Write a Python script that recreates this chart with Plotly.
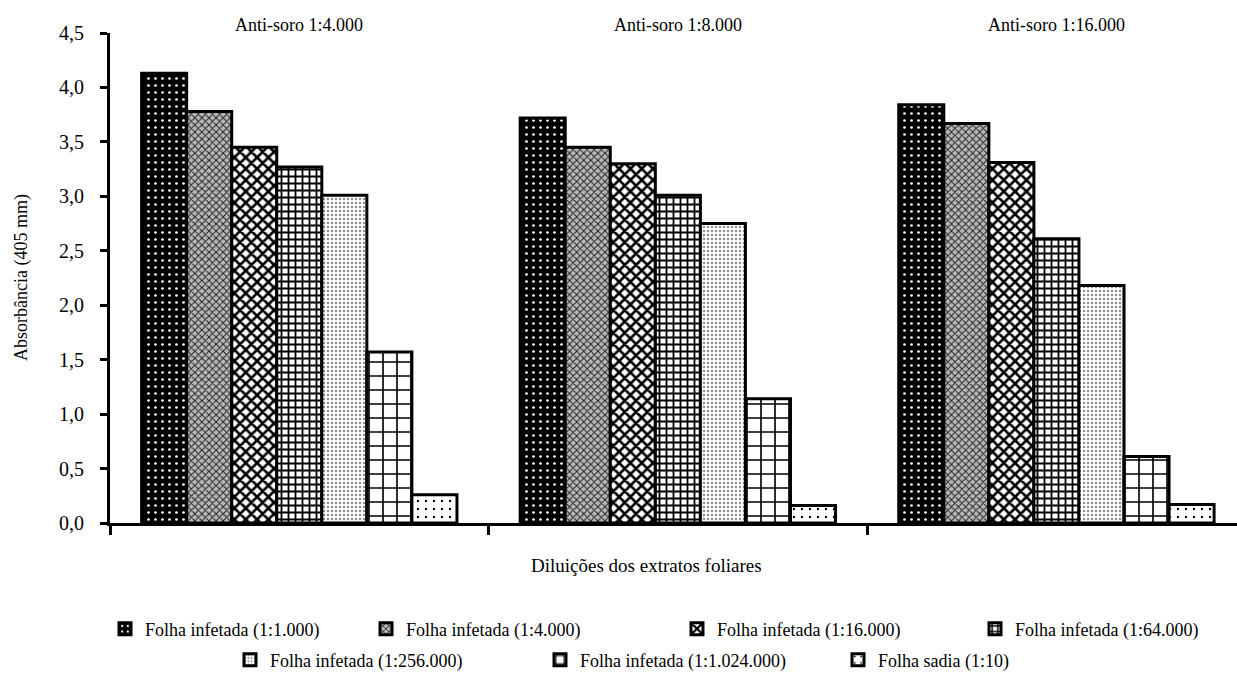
import plotly.graph_objects as go

# ---------------- data ----------------
groups = ["Anti-soro 1:4.000", "Anti-soro 1:8.000", "Anti-soro 1:16.000"]

series_names = [
    "Folha infetada (1:1.000)",
    "Folha infetada (1:4.000)",
    "Folha infetada (1:16.000)",
    "Folha infetada (1:64.000)",
    "Folha infetada (1:256.000)",
    "Folha infetada (1:1.024.000)",
    "Folha sadia (1:10)",
]

inf_1_1000 = [4.13, 3.72, 3.84]
inf_1_4000 = [3.78, 3.45, 3.67]
inf_1_16000 = [3.45, 3.30, 3.31]
inf_1_64000 = [3.27, 3.01, 2.61]
inf_1_256000 = [3.01, 2.75, 2.18]
inf_1_1024000 = [1.57, 1.14, 0.61]
sadia_1_10 = [0.26, 0.16, 0.17]

series_values = [inf_1_1000, inf_1_4000, inf_1_16000, inf_1_64000,
                 inf_1_256000, inf_1_1024000, sadia_1_10]

y_tick_values = [0, 0.5, 1.0, 1.5, 2.0, 2.5, 3.0, 3.5, 4.0, 4.5]

# ---------------- styles ----------------
FONT = "Times New Roman, Liberation Serif, serif"
W, H = 1237, 675
ML, MR, MT, MB = 110, 0, 33, 152
PW, PH = W - ML - MR, H - MT - MB


def px_to_paper_x(px):
    return (px - ML) / PW


def px_to_paper_y(py):
    return (H - MB - py) / PH


patterns = [
    dict(shape=".", bgcolor="black", fgcolor="white", size=7, solidity=0.12, fillmode="replace"),
    dict(shape="x", bgcolor="#b8b8b8", fgcolor="#202020", size=5, solidity=0.35, fillmode="replace"),
    dict(shape="x", bgcolor="white", fgcolor="black", size=8, solidity=0.55, fillmode="replace"),
    dict(shape="+", bgcolor="white", fgcolor="black", size=7, solidity=0.45, fillmode="replace"),
    dict(shape=".", bgcolor="white", fgcolor="#909090", size=4, solidity=0.3, fillmode="replace"),
    dict(shape="+", bgcolor="white", fgcolor="black", size=14, solidity=0.22, fillmode="replace"),
    dict(shape=".", bgcolor="white", fgcolor="black", size=8, solidity=0.07, fillmode="replace"),
]

# legend text start x (px) and row centre y (px)
legend_pos = [(145, 629), (406, 629), (717, 629), (1015, 629),
              (270, 660), (580, 660), (878, 660)]

fig = go.Figure()
for i, (name, vals) in enumerate(zip(series_names, series_values)):
    lg = "legend" if i == 0 else f"legend{i + 1}"
    fig.add_trace(go.Bar(
        x=groups, y=vals, name=name, legend=lg,
        marker=dict(color="white", pattern=patterns[i],
                    line=dict(color="black", width=3)),
    ))

layout_legends = {}
for i, (tx, ty) in enumerate(legend_pos):
    lg = "legend" if i == 0 else f"legend{i + 1}"
    layout_legends[lg] = dict(
        x=(tx - 40) / W, y=1 - ty / H, xref="container", yref="container",
        xanchor="left", yanchor="middle", orientation="h",
        font=dict(family=FONT, size=18, color="black"),
        bgcolor="rgba(0,0,0,0)", itemwidth=30,
    )

fig.update_layout(
    width=W, height=H,
    barmode="group", bargap=0.167, bargroupgap=0,
    separators=", ",
    plot_bgcolor="white", paper_bgcolor="white",
    margin=dict(l=ML, r=MR, t=MT, b=MB, pad=0),
    font=dict(family=FONT, size=18, color="black"),
    showlegend=True,
    **layout_legends,
)

fig.update_xaxes(
    type="category", range=[-0.5, 2.477],
    showline=True, linewidth=3, linecolor="black",
    ticks="outside", tickson="boundaries", ticklen=9, tickwidth=3, tickcolor="black",
    showticklabels=False, showgrid=False, zeroline=False,
)
fig.update_yaxes(
    range=[0, 4.5], tickvals=y_tick_values, tickformat=".1f",
    showline=True, linewidth=3, linecolor="black",
    ticks="outside", ticklen=7, tickwidth=3, tickcolor="black",
    tickfont=dict(family=FONT, size=20, color="black"),
    ticklabelstandoff=12,
    showgrid=False, zeroline=False,
)

annotations = []
for g in groups:
    annotations.append(dict(x=g, xref="x", y=px_to_paper_y(25), yref="paper", text=g,
                            showarrow=False, xanchor="center", yanchor="middle",
                            font=dict(family=FONT, size=18, color="black")))
annotations.append(dict(x=px_to_paper_x(646), xref="paper", y=px_to_paper_y(565), yref="paper",
                        text="Diluições dos extratos foliares", showarrow=False,
                        xanchor="center", yanchor="middle",
                        font=dict(family=FONT, size=19, color="black")))
annotations.append(dict(x=px_to_paper_x(21), xref="paper", y=px_to_paper_y(278), yref="paper",
                        text="Absorbância (405 mm)", showarrow=False, textangle=-90,
                        xanchor="center", yanchor="middle",
                        font=dict(family=FONT, size=18, color="black")))
fig.update_layout(annotations=annotations)

fig.write_html("out.html", config={"displayModeBar": False},
               post_script="document.body.style.margin='0';")
